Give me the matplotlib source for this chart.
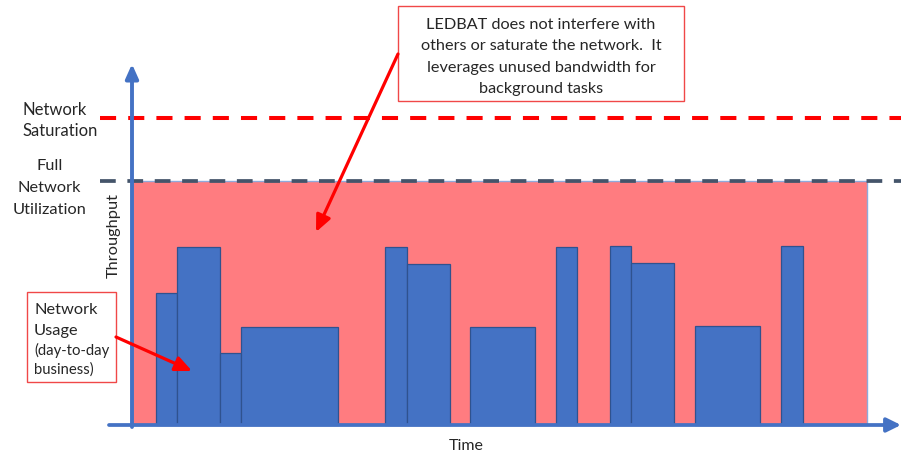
import matplotlib
matplotlib.use("Agg")
import matplotlib.pyplot as plt
from matplotlib.patches import Rectangle, FancyArrowPatch

# ---------------- data ----------------
bar_start = [3.25, 6.1, 11.95, 14.85, 34.45, 37.35, 46.0, 57.7, 65.05, 67.95, 76.65, 88.25]
bar_width = [2.9, 5.85, 2.9, 13.2, 2.9, 5.85, 8.8, 2.9, 2.9, 5.8, 8.8, 3.0]
bar_height = [54, 73, 29.5, 40, 73, 66, 40, 73, 73.5, 66.5, 40.5, 73.5]
full_utilization = 100
saturation = 126
time_end = 100

saturation_label = ["Network", "Saturation"]
full_label = ["Full", "Network", "Utilization"]
ledbat_label = ["LEDBAT does not interfere with",
                "others or saturate the network.  It",
                "leverages unused bandwidth for",
                "background tasks"]
usage_label = ["Network", "Usage"]
usage_sub_label = ["(day-to-day", "business)"]

W, H = 921, 456
fig = plt.figure(figsize=(W / 100, H / 100), dpi=100)
ax = fig.add_axes([0, 0, 1, 1])
ax.set_axis_off()

# pixel <-> data mapping (layout)
X0, SX = 132, 7.35   # pixel x of time=0, px per unit
Y0, SY = 426, 2.44   # pixel y of throughput=0, px per unit
ax.set_xlim(-X0 / SX, (W - X0) / SX)
ax.set_ylim(-(H - Y0) / SY, Y0 / SY)

def dx(px):
    return (px - X0) / SX

def dy(py):
    return (Y0 - py) / SY

FONT = "Lato"
TXT = "#262626"
BLUE = "#4472C4"
renderer = fig.canvas.get_renderer()

def fit_size(s, target_px, size0=12.0):
    t = ax.text(0, 0, s, fontsize=size0, family=FONT)
    w = t.get_window_extent(renderer).width
    t.remove()
    return size0 * target_px / w

def draw_lines(lines, x, baselines, size, ha):
    for s, b in zip(lines, baselines):
        ax.text(dx(x), dy(b), s, ha=ha, va="baseline", fontsize=size,
                family=FONT, color=TXT, zorder=6)

# pink "available bandwidth" area
ax.add_patch(Rectangle((0, 0), time_end, full_utilization, facecolor="#FF7C80",
                       edgecolor="#8FAADC", lw=1.0, zorder=1))

# network usage bars
ax.bar(bar_start, bar_height, width=bar_width, align="edge", bottom=0,
       color=BLUE, edgecolor="#2F528F", linewidth=0.9, zorder=2)

# dashed levels
ax.plot([dx(100), dx(901)], [saturation, saturation], color="#FF0000", lw=2.9,
        linestyle=(0, (4, 3)), zorder=3, dash_capstyle="butt")
ax.plot([dx(100), dx(901)], [full_utilization, full_utilization], color="#44546A", lw=2.7,
        linestyle=(0, (4.2, 3.1)), zorder=3, dash_capstyle="butt")

# axes arrows
ax.add_patch(FancyArrowPatch((0, dy(428)), (0, dy(65)),
                             arrowstyle="-|>,head_length=0.85,head_width=0.38",
                             mutation_scale=10, color=BLUE, lw=2.8,
                             shrinkA=0, shrinkB=0, zorder=4))
ax.add_patch(FancyArrowPatch((dx(109), 0), (dx(901), 0),
                             arrowstyle="-|>,head_length=0.85,head_width=0.42",
                             mutation_scale=10, color=BLUE, lw=2.7,
                             shrinkA=0, shrinkB=0, zorder=4))

# axis labels
s_time = fit_size("Time", 35)
draw_lines(["Time"], 466, [450], s_time, "center")
s_thr = fit_size("Throughput", 85)
ax.text(dx(114), dy(236), "Throughput", ha="center", va="center", fontsize=s_thr,
        rotation=90, family=FONT, color=TXT)

# level labels
s_sat = fit_size("Saturation", 75)
draw_lines(saturation_label, 22, [115, 136], s_sat, "left")
s_full = fit_size("Utilization", 73)
draw_lines(full_label, 49.5, [170, 192, 214], s_full, "center")

# LEDBAT callout box
ax.add_patch(Rectangle((dx(398), dy(102)), dx(684) - dx(398), dy(7) - dy(102),
                       facecolor="white", edgecolor="#F04848", lw=1.0, zorder=5))
s_led = fit_size(ledbat_label[0], 229)
draw_lines(ledbat_label, 541, [29, 50.3, 71.6, 92.9], s_led, "center")
ax.add_patch(FancyArrowPatch((dx(398), dy(55)), (dx(316), dy(233)),
                             arrowstyle="-|>,head_length=1.0,head_width=0.45",
                             mutation_scale=10, color="#FF0000", lw=2.3,
                             shrinkA=0, shrinkB=0, zorder=6))

# Network usage callout box
ax.add_patch(Rectangle((dx(27), dy(383)), dx(116) - dx(27), dy(292.5) - dy(383),
                       facecolor="white", edgecolor="#F04848", lw=1.0, zorder=5))
s_use = fit_size("Network", 63)
draw_lines(usage_label, 34, [313.5, 334.5], s_use, "left")
s_sub = fit_size("(day-to-day", 75)
draw_lines(usage_sub_label, 34, [355.5, 373.5], s_sub, "left")
ax.add_patch(FancyArrowPatch((dx(116), dy(338)), (dx(192), dy(372)),
                             arrowstyle="-|>,head_length=1.0,head_width=0.45",
                             mutation_scale=10, color="#FF0000", lw=2.3,
                             shrinkA=0, shrinkB=0, zorder=6))

fig.savefig("out.png", dpi=100)
